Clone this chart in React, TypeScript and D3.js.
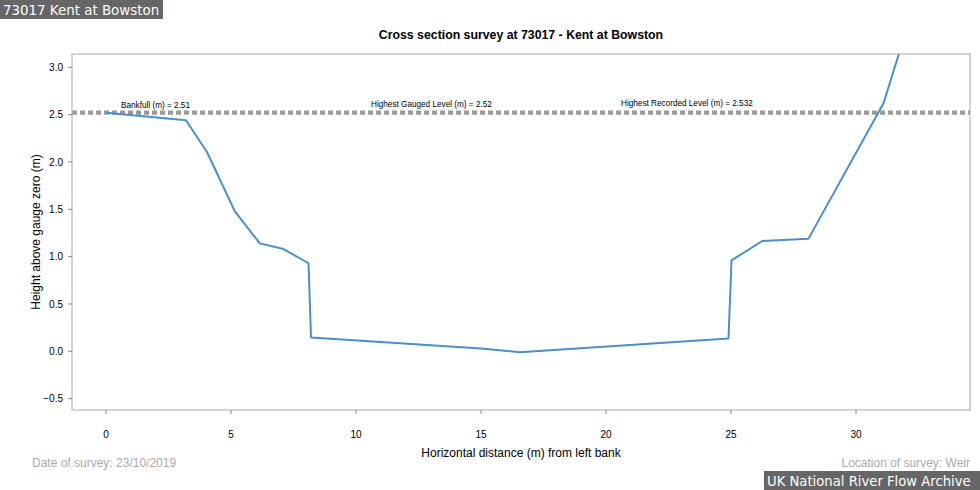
import * as d3 from 'd3'

// survey points
const distance = [0, 3.2, 4.05, 5.15, 6.15, 7.1, 8.1, 8.2, 15.0, 16.55, 24.9, 25.02, 26.25, 28.1, 31.1, 32.2]
const height = [2.52, 2.44, 2.1, 1.48, 1.14, 1.08, 0.93, 0.145, 0.03, -0.01, 0.135, 0.96, 1.165, 1.19, 2.62, 3.55]

const levelNames = ['Bankfull', 'Highest Gauged Level', 'Highest Recorded Level']
const levelValues = [2.51, 2.52, 2.532]

const xTicks = [0, 5, 10, 15, 20, 25, 30]
const yTicks = [-0.5, 0, 0.5, 1, 1.5, 2, 2.5, 3]

const W = 980
const H = 490
const margin = { top: 54, right: 10, bottom: 80, left: 72 }
const font = '"Liberation Sans", Arial, sans-serif'
const boxFont = '"DejaVu Sans", sans-serif'

// where each level label starts, in metres along the section
const labelStart = [0.6, 10.6, 20.6]

const App = () => {
  const x = d3.scaleLinear().domain([-1.36, 34.56]).range([margin.left, W - margin.right])
  const y = d3.scaleLinear().domain([-0.62, 3.14]).range([H - margin.bottom, margin.top])
  const [x0, x1] = x.range()
  const [y0, y1] = y.range()

  const pts = distance.map((d, i) => [d, height[i]] as [number, number])
  const line = d3.line<[number, number]>().x(d => x(d[0])).y(d => y(d[1]))

  return (
    <div style={{ position: 'absolute', left: 0, top: 0 }}>
      <svg width={W} height={H} style={{ display: 'block', background: '#fff' }}>
        <defs>
          <clipPath id="plot">
            <rect x={x0} y={y1} width={x1 - x0} height={y0 - y1} />
          </clipPath>
        </defs>

        <rect x={0} y={0} width={163} height={19} fill="#666" />
        <text x={3} y={15} fill="#fff" fontFamily={boxFont} fontSize={13.4}>
          73017 Kent at Bowston
        </text>

        <text x={(x0 + x1) / 2} y={39} textAnchor="middle" fontFamily={font} fontSize={12.3} fontWeight="bold">
          Cross section survey at 73017 - Kent at Bowston
        </text>

        <g clipPath="url(#plot)">
          {levelValues.map(v => (
            <line key={v} x1={x0} x2={x1} y1={y(v)} y2={y(v)} stroke="#9a9a9a" strokeWidth={2.2} strokeDasharray="5,3" />
          ))}
          <path d={line(pts) || ''} fill="none" stroke="#4a8fc8" strokeWidth={2} strokeLinejoin="round" />
        </g>

        {levelNames.map((n, i) => (
          <text key={n} x={x(labelStart[i])} y={y(levelValues[i]) - 6} fontFamily={font} fontSize={8.2} fill="#000">
            {`${n} (m) = ${levelValues[i]}`}
          </text>
        ))}

        <rect x={x0} y={y1} width={x1 - x0} height={y0 - y1} fill="none" stroke="#aaa" strokeWidth={1} />

        {xTicks.map(t => (
          <g key={t}>
            <line x1={x(t)} x2={x(t)} y1={y0} y2={y0 + 4} stroke="#888" />
            <text x={x(t)} y={y0 + 28} textAnchor="middle" fontFamily={font} fontSize={10}>
              {t}
            </text>
          </g>
        ))}
        {yTicks.map(t => (
          <g key={t}>
            <line x1={x0 - 4} x2={x0} y1={y(t)} y2={y(t)} stroke="#888" />
            <text x={x0 - 9} y={y(t) + 3.6} textAnchor="end" fontFamily={font} fontSize={10}>
              {d3.format('.1f')(t)}
            </text>
          </g>
        ))}

        <text x={(x0 + x1) / 2} y={457} textAnchor="middle" fontFamily={font} fontSize={12}>
          Horizontal distance (m) from left bank
        </text>
        <text
          transform={`translate(40,${(y0 + y1) / 2}) rotate(-90)`}
          textAnchor="middle"
          fontFamily={font}
          fontSize={12}
        >
          Height above gauge zero (m)
        </text>

        <text x={32} y={467} fontFamily={font} fontSize={12} fill="#aaa">
          Date of survey: 23/10/2019
        </text>
        <text x={x1} y={467} textAnchor="end" fontFamily={font} fontSize={12} fill="#aaa">
          Location of survey: Weir
        </text>

        <rect x={764} y={471} width={216} height={19} fill="#666" />
        <text x={767} y={486} fill="#fff" fontFamily={boxFont} fontSize={13.2}>
          UK National River Flow Archive
        </text>
      </svg>
    </div>
  )
}

export default App
